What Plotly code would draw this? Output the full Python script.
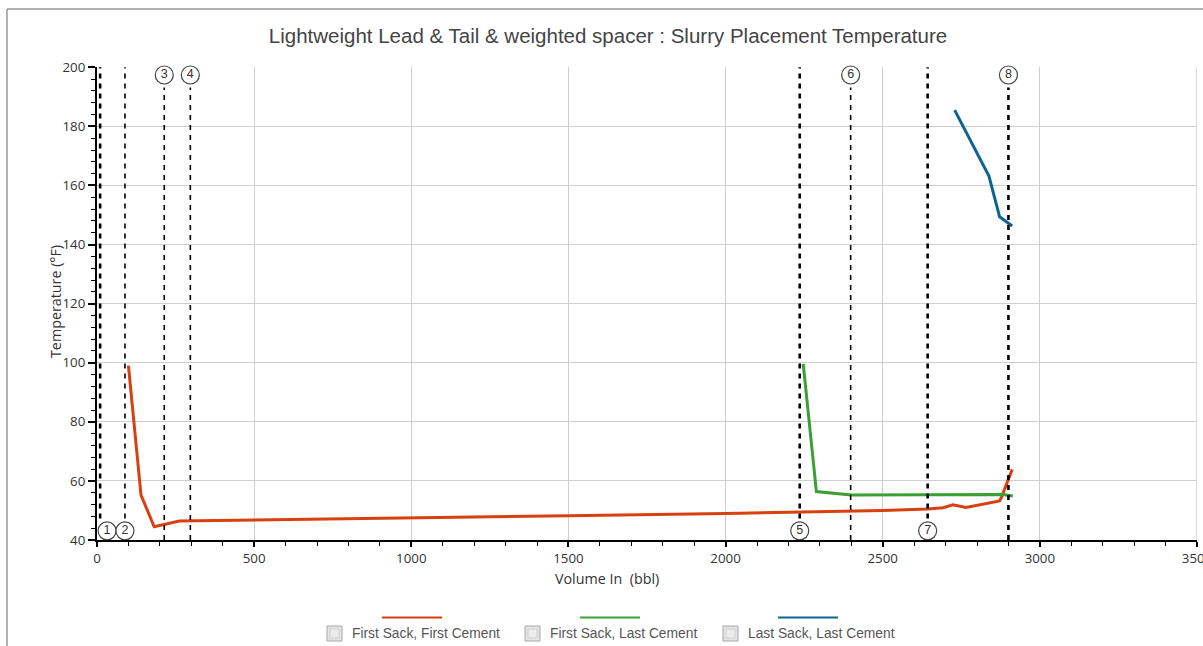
import plotly.graph_objects as go

# --- data -------------------------------------------------------------
# First Sack, First Cement
ffc_vol = [100, 140, 182, 216, 262, 500, 1000, 1500, 2000, 2236, 2500, 2643,
           2692, 2723, 2765, 2872, 2878, 2912]
ffc_temp = [99.0, 55.2, 44.5, 45.3, 46.4, 46.8, 47.4, 48.2, 49.0, 49.4, 50.0, 50.5,
            50.9, 51.9, 51.0, 53.2, 54.5, 63.9]

# First Sack, Last Cement
flc_vol = [2247, 2289, 2400, 2600, 2882, 2914]
flc_temp = [99.6, 56.4, 55.2, 55.3, 55.4, 54.9]

# Last Sack, Last Cement
llc_vol = [2729, 2780, 2838, 2872, 2912]
llc_temp = [185.5, 175.3, 163.2, 149.4, 146.3]

# job events (volume pumped in bbl)
event_ids = ["1", "2", "3", "4", "5", "6", "7", "8"]
event_vol = [10, 89, 214, 297, 2236, 2398, 2643, 2900]
event_label_vol = [32, 89, 214, 297, 2236, 2398, 2643, 2900]
event_on_top = [False, False, True, True, False, True, False, True]

series_names = ["First Sack, First Cement", "First Sack, Last Cement", "Last Sack, Last Cement"]
series_colors = ["#d8400f", "#3a9f34", "#0d6494"]

x_ticks = [0, 500, 1000, 1500, 2000, 2500, 3000, 3500]
y_ticks = [40, 60, 80, 100, 120, 140, 160, 180, 200]

# --- layout geometry (px) ---------------------------------------------
W, H = 1203, 646
ML, MR, MT, MB = 97, 6, 67, 106
PW, PH = W - ML - MR, H - MT - MB


def px_x(p):
    return (p - ML) / PW


def px_y(p):
    return (H - MB - p) / PH


fig = go.Figure()

for vol, temp, name, col in zip([ffc_vol, flc_vol, llc_vol],
                                [ffc_temp, flc_temp, llc_temp],
                                series_names, series_colors):
    fig.add_trace(go.Scatter(x=vol, y=temp, mode="lines", name=name,
                             line=dict(color=col, width=3), showlegend=False,
                             hoverinfo="x+y+name"))

shapes = []
# right-most vertical grid line on the plot edge
shapes.append(dict(type="line", xref="x", yref="paper", x0=x_ticks[-1], x1=x_ticks[-1],
                   y0=0, y1=1, line=dict(color="#cfcfcf", width=1.5), layer="below"))

# dashed event lines
heavy = {"1", "5", "7", "8"}
for eid, v, top in zip(event_ids, event_vol, event_on_top):
    y0, y1 = (40, 193.2) if top else (47.3, 200)
    shapes.append(dict(type="line", xref="x", yref="y", x0=v, x1=v, y0=y0, y1=y1,
                       line=dict(color="black", width=2.6 if eid in heavy else 1.6,
                                 dash="5px,5px"), layer="above"))

# circled event numbers
fig.add_trace(go.Scatter(
    x=event_label_vol,
    y=[197.4 if t else 43.1 for t in event_on_top],
    mode="markers+text", text=event_ids, textposition="middle center",
    textfont=dict(family="Liberation Sans", size=12.5, color="#333"),
    marker=dict(symbol="circle", size=18, color="white",
                line=dict(color="#444", width=1.2)),
    showlegend=False, hoverinfo="skip", cliponaxis=False))

# outer frame of the chart panel
shapes.append(dict(type="line", xref="paper", yref="paper",
                   x0=px_x(7), x1=px_x(W + 5), y0=px_y(9), y1=px_y(9),
                   line=dict(color="#9a9a9a", width=1.5)))
shapes.append(dict(type="line", xref="paper", yref="paper",
                   x0=px_x(7), x1=px_x(7), y0=px_y(9), y1=px_y(H + 5),
                   line=dict(color="#9a9a9a", width=1.5)))

# legend: colour line above a checkbox and label
annotations = []
legend_box_x = [327, 525, 723]
for bx, name, col in zip(legend_box_x, series_names, series_colors):
    shapes.append(dict(type="line", xref="paper", yref="paper",
                       x0=px_x(bx + 55), x1=px_x(bx + 115), y0=px_y(617.5), y1=px_y(617.5),
                       line=dict(color=col, width=2)))
    shapes.append(dict(type="rect", xref="paper", yref="paper",
                       x0=px_x(bx), x1=px_x(bx + 15), y0=px_y(626), y1=px_y(641),
                       line=dict(color="#a8a8a8", width=1), fillcolor="#e4e4e4"))
    shapes.append(dict(type="rect", xref="paper", yref="paper",
                       x0=px_x(bx + 3), x1=px_x(bx + 12), y0=px_y(629), y1=px_y(638),
                       line=dict(color="#d0d0d0", width=1), fillcolor="#ececec"))
    annotations.append(dict(xref="paper", yref="paper", x=px_x(bx + 23), y=px_y(633.5),
                            text=name, showarrow=False, xanchor="left", yanchor="middle",
                            font=dict(family="Liberation Sans", size=13.8, color="#555")))

# axis titles
annotations.append(dict(xref="paper", yref="paper", x=px_x(607), y=px_y(578),
                        text="Volume In  (bbl)", showarrow=False,
                        xanchor="center", yanchor="middle",
                        font=dict(family="Open Sans", size=14.3, color="#333")))
annotations.append(dict(xref="paper", yref="paper", x=px_x(55), y=px_y(302),
                        text="Temperature (°F)", showarrow=False, textangle=-90,
                        xanchor="center", yanchor="middle",
                        font=dict(family="Open Sans", size=14.3, color="#333")))

tick_font = dict(family="Open Sans", size=13.3, color="#333")

fig.update_layout(
    width=W, height=H,
    margin=dict(l=ML, r=MR, t=MT, b=MB, autoexpand=False),
    paper_bgcolor="white", plot_bgcolor="white",
    title=dict(text="Lightweight Lead & Tail & weighted spacer : Slurry Placement Temperature",
               x=608 / W, xanchor="center", y=1 - 36 / H, yanchor="middle",
               font=dict(family="Liberation Sans", size=20.5, color="#444")),
    xaxis=dict(range=[0, 3500], tickvals=x_ticks, ticktext=[str(v) for v in x_ticks],
               showgrid=True, gridcolor="#cfcfcf", gridwidth=1, zeroline=False,
               showline=True, linecolor="black", linewidth=2, automargin=False,
               ticks="outside", ticklen=5, tickwidth=1.5, tickcolor="black",
               tickfont=tick_font, ticklabeloverflow="allow",
               minor=dict(dtick=100, ticks="outside", ticklen=4, tickwidth=1.2,
                          tickcolor="black", showgrid=False)),
    yaxis=dict(range=[40, 200.1], tickvals=y_ticks, ticktext=[str(v) for v in y_ticks],
               showgrid=True, gridcolor="#cfcfcf", gridwidth=1, zeroline=False,
               showline=True, linecolor="black", linewidth=2, automargin=False,
               ticks="outside", ticklen=7, tickwidth=1.5, tickcolor="black",
               tickfont=tick_font,
               minor=dict(dtick=4, ticks="outside", ticklen=4, tickwidth=1.2,
                          tickcolor="black", showgrid=False)),
    shapes=shapes,
    annotations=annotations,
    showlegend=False,
)

fig.write_html("out.html")
